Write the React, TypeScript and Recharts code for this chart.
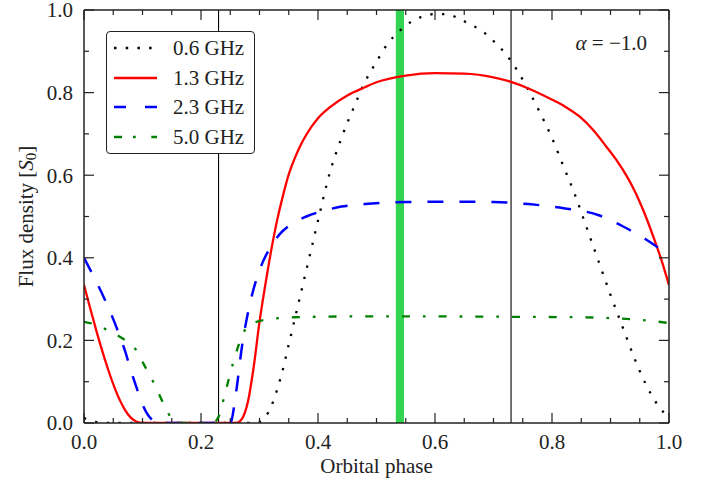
import React from 'react';
import { LineChart, Line, XAxis, YAxis, ReferenceLine, ReferenceArea, Legend } from 'recharts';

const FONT = '"Liberation Serif", "Times New Roman", Times, serif';
const FRAME = '#222';

// 0.6 GHz
const phase06 = [0, 0.02, 0.04, 0.1, 0.2, 0.28, 0.3, 0.31, 0.32, 0.33, 0.34, 0.35, 0.36, 0.37, 0.38, 0.39, 0.4, 0.42, 0.44, 0.46, 0.48, 0.5, 0.52, 0.54, 0.56, 0.58, 0.6, 0.62, 0.64, 0.66, 0.68, 0.7, 0.72, 0.74, 0.76, 0.78, 0.8, 0.82, 0.84, 0.86, 0.88, 0.9, 0.92, 0.94, 0.96, 0.98, 1];
const flux06 = [0.012, 0.003, 0, 0, 0, 0, 0.003, 0.015, 0.04, 0.08, 0.13, 0.19, 0.25, 0.31, 0.37, 0.43, 0.49, 0.605, 0.69, 0.76, 0.825, 0.875, 0.92, 0.95, 0.972, 0.985, 0.99, 0.99, 0.98, 0.965, 0.95, 0.925, 0.895, 0.855, 0.805, 0.75, 0.69, 0.62, 0.55, 0.47, 0.39, 0.31, 0.235, 0.16, 0.095, 0.045, 0.012];

// 1.3 GHz
const phase13 = [0, 0.01, 0.02, 0.03, 0.04, 0.05, 0.06, 0.07, 0.08, 0.09, 0.1, 0.2, 0.26, 0.27, 0.28, 0.29, 0.3, 0.31, 0.32, 0.33, 0.34, 0.35, 0.36, 0.37, 0.38, 0.4, 0.42, 0.45, 0.48, 0.5, 0.55, 0.6, 0.65, 0.7, 0.73, 0.76, 0.79, 0.82, 0.848, 0.87, 0.893, 0.91, 0.928, 0.943, 0.956, 0.973, 0.987, 1];
const flux13 = [0.334, 0.281, 0.229, 0.18, 0.135, 0.094, 0.059, 0.032, 0.013, 0.003, 0, 0, 0, 0.01, 0.05, 0.135, 0.245, 0.335, 0.418, 0.49, 0.55, 0.602, 0.64, 0.672, 0.698, 0.738, 0.764, 0.793, 0.813, 0.825, 0.841, 0.847, 0.846, 0.837, 0.826, 0.81, 0.79, 0.768, 0.741, 0.71, 0.669, 0.637, 0.597, 0.557, 0.515, 0.452, 0.395, 0.334];

// 2.3 GHz
const phase23 = [0, 0.02, 0.04, 0.06, 0.07, 0.08, 0.09, 0.1, 0.11, 0.12, 0.125, 0.2, 0.25, 0.26, 0.27, 0.28, 0.29, 0.3, 0.31, 0.32, 0.335, 0.35, 0.38, 0.41, 0.44, 0.48, 0.55, 0.6, 0.65, 0.7, 0.76, 0.82, 0.88, 0.9, 0.92, 0.96, 0.985, 1];
const flux23 = [0.4, 0.345, 0.285, 0.215, 0.175, 0.128, 0.085, 0.045, 0.018, 0.004, 0, 0, 0, 0.075, 0.185, 0.265, 0.325, 0.37, 0.403, 0.428, 0.458, 0.477, 0.5, 0.514, 0.524, 0.53, 0.535, 0.536, 0.536, 0.535, 0.53, 0.52, 0.503, 0.491, 0.477, 0.445, 0.42, 0.4];

// 5.0 GHz
const phase50 = [0, 0.02, 0.04, 0.06, 0.08, 0.09, 0.1, 0.12, 0.14, 0.15, 0.16, 0.2, 0.22, 0.23, 0.24, 0.25, 0.26, 0.27, 0.28, 0.3, 0.32, 0.36, 0.45, 0.6, 0.75, 0.85, 0.9, 0.95, 1];
const flux50 = [0.245, 0.238, 0.225, 0.21, 0.19, 0.175, 0.148, 0.095, 0.035, 0.01, 0, 0, 0, 0.015, 0.065, 0.12, 0.17, 0.21, 0.235, 0.247, 0.252, 0.256, 0.258, 0.258, 0.257, 0.256, 0.254, 0.25, 0.242];

const xTicks = [0, 0.05, 0.1, 0.15, 0.2, 0.25, 0.3, 0.35, 0.4, 0.45, 0.5, 0.55, 0.6, 0.65, 0.7, 0.75, 0.8, 0.85, 0.9, 0.95, 1];
const xMajor = [0, 0.2, 0.4, 0.6, 0.8, 1];
const yTicks = [0, 0.1, 0.2, 0.3, 0.4, 0.5, 0.6, 0.7, 0.8, 0.9, 1];
const yMajor = [0, 0.2, 0.4, 0.6, 0.8, 1];

const eclipseEdges = [0.23, 0.73];
const bandPhase = [0.533, 0.547];

const toPoints = (xs: number[], ys: number[]) => xs.map((x, i) => ({ x, y: ys[i] }));

const series = [
  { name: '0.6 GHz', data: toPoints(phase06, flux06), color: '#000000', width: 2.3, dash: '2.3 9.4', legendDash: '2.5 9.2' },
  { name: '1.3 GHz', data: toPoints(phase13, flux13), color: '#ff0000', width: 2.3, dash: undefined, legendDash: undefined },
  { name: '2.3 GHz', data: toPoints(phase23, flux23), color: '#0000ff', width: 2.5, dash: '16 16', legendDash: '12 19' },
  { name: '5.0 GHz', data: toPoints(phase50, flux50), color: '#008000', width: 2.3, dash: '8 13 2.7 13', legendDash: '8 11 2.7 15.6' },
];

const isMajor = (v: number, majors: number[]) => majors.some((m) => Math.abs(m - v) < 1e-6);

const BottomTick = (props: any) => {
  const { x, y, payload } = props;
  const major = isMajor(payload.value, xMajor);
  return (
    <g>
      <line x1={x} y1={y} x2={x} y2={y - (major ? 10 : 5)} stroke={FRAME} strokeWidth={1.2} />
      {major && (
        <text x={x} y={y + 26} textAnchor="middle" fontSize={21} fontFamily={FONT} fill="#222">
          {payload.value.toFixed(1)}
        </text>
      )}
    </g>
  );
};

const TopTick = (props: any) => {
  const { x, y, payload } = props;
  const major = isMajor(payload.value, xMajor);
  return <line x1={x} y1={y} x2={x} y2={y + (major ? 10 : 5)} stroke={FRAME} strokeWidth={1.2} />;
};

const LeftTick = (props: any) => {
  const { x, y, payload } = props;
  const major = isMajor(payload.value, yMajor);
  return (
    <g>
      <line x1={x} y1={y} x2={x + (major ? 10 : 5)} y2={y} stroke={FRAME} strokeWidth={1.2} />
      {major && (
        <text x={x - 11} y={y} dy="0.35em" textAnchor="end" fontSize={21} fontFamily={FONT} fill="#222">
          {payload.value.toFixed(1)}
        </text>
      )}
    </g>
  );
};

const RightTick = (props: any) => {
  const { x, y, payload } = props;
  const major = isMajor(payload.value, yMajor);
  return <line x1={x} y1={y} x2={x - (major ? 10 : 5)} y2={y} stroke={FRAME} strokeWidth={1.2} />;
};

const XLabel = (props: any) => {
  const vb = props.viewBox || { x: 84, y: 423, width: 585 };
  return (
    <text x={vb.x + vb.width / 2} y={vb.y + 50} textAnchor="middle" fontSize={21} fontFamily={FONT} fill="#222">
      Orbital phase
    </text>
  );
};

const YLabel = (props: any) => {
  const vb = props.viewBox || { x: 0, y: 10, width: 84, height: 413 };
  const cx = 26;
  const cy = vb.y + vb.height / 2;
  return (
    <text
      x={cx}
      y={cy}
      transform={`rotate(-90, ${cx}, ${cy})`}
      textAnchor="middle"
      dominantBaseline="central"
      fontSize={21}
      fontFamily={FONT}
      fill="#222"
    >
      Flux density [<tspan fontStyle="italic">S</tspan>
      <tspan fontSize={15} dy={5}>0</tspan>
      <tspan dy={-5}>]</tspan>
    </text>
  );
};

const LegendBox = () => (
  <div
    style={{
      width: 149,
      height: 123,
      boxSizing: 'border-box',
      border: `1.3px solid ${FRAME}`,
      borderRadius: 4,
      background: '#fff',
      position: 'relative',
      fontFamily: FONT,
      fontSize: 21,
      color: '#222',
    }}
  >
    {series.map((s, i) => (
      <div
        key={s.name}
        style={{ position: 'absolute', left: 0, top: 16 + i * 29.7 - 12, height: 24, display: 'flex', alignItems: 'center' }}
      >
        <svg width={51} height={24}>
          <line x1={7} x2={50} y1={12} y2={12} stroke={s.color} strokeWidth={s.width} strokeDasharray={s.legendDash} />
        </svg>
        <span style={{ marginLeft: 15, lineHeight: '24px', whiteSpace: 'nowrap' }}>{s.name}</span>
      </div>
    ))}
  </div>
);

export default function App() {
  return (
    <div style={{ position: 'absolute', left: 0, top: 0, width: 712, height: 485, background: '#fff', fontFamily: FONT }}>
      <LineChart width={712} height={485} margin={{ top: 9, right: 42, bottom: 0, left: 0 }}>
        <XAxis
          dataKey="x"
          type="number"
          domain={[0, 1]}
          allowDataOverflow
          ticks={xTicks}
          interval={0}
          tickSize={0}
          tickMargin={0}
          tickLine={false}
          tick={BottomTick}
          axisLine={{ stroke: FRAME, strokeWidth: 1.5 }}
          height={62}
          label={XLabel}
        />
        <XAxis
          xAxisId="top"
          orientation="top"
          dataKey="x"
          type="number"
          domain={[0, 1]}
          allowDataOverflow
          ticks={xTicks}
          interval={0}
          tickSize={0}
          tickMargin={0}
          tickLine={false}
          tick={TopTick}
          axisLine={{ stroke: FRAME, strokeWidth: 1.5 }}
          height={1}
        />
        <YAxis
          type="number"
          domain={[0, 1]}
          allowDataOverflow
          ticks={yTicks}
          interval={0}
          tickSize={0}
          tickMargin={0}
          tickLine={false}
          tick={LeftTick}
          axisLine={{ stroke: FRAME, strokeWidth: 1.5 }}
          width={84}
          label={YLabel}
        />
        <YAxis
          yAxisId="right"
          orientation="right"
          type="number"
          domain={[0, 1]}
          allowDataOverflow
          ticks={yTicks}
          interval={0}
          tickSize={0}
          tickMargin={0}
          tickLine={false}
          tick={RightTick}
          axisLine={{ stroke: FRAME, strokeWidth: 1.5 }}
          width={1}
        />
        <ReferenceArea x1={bandPhase[0]} x2={bandPhase[1]} y1={0} y2={1} fill="#33d452" fillOpacity={1} stroke="none" ifOverflow="hidden" />
        {eclipseEdges.map((p) => (
          <ReferenceLine key={p} x={p} stroke="#000" strokeWidth={1.1} />
        ))}
        {series.map((s) => (
          <Line
            key={s.name}
            data={s.data}
            dataKey="y"
            name={s.name}
            type="monotone"
            stroke={s.color}
            strokeWidth={s.width}
            strokeDasharray={s.dash}
            dot={false}
            activeDot={false}
            isAnimationActive={false}
          />
        ))}
        <Legend
          layout="vertical"
          align="center"
          verticalAlign="middle"
          content={() => <LegendBox />}
          wrapperStyle={{ left: 106, top: 31, width: 149, height: 123 }}
        />
      </LineChart>
      <div
        style={{
          position: 'absolute',
          left: 530,
          top: 30,
          width: 117,
          textAlign: 'right',
          fontSize: 21,
          lineHeight: '26px',
          color: '#222',
          fontFamily: FONT,
          whiteSpace: 'nowrap',
        }}
      >
        <i>α</i> = −1.0
      </div>
    </div>
  );
}
